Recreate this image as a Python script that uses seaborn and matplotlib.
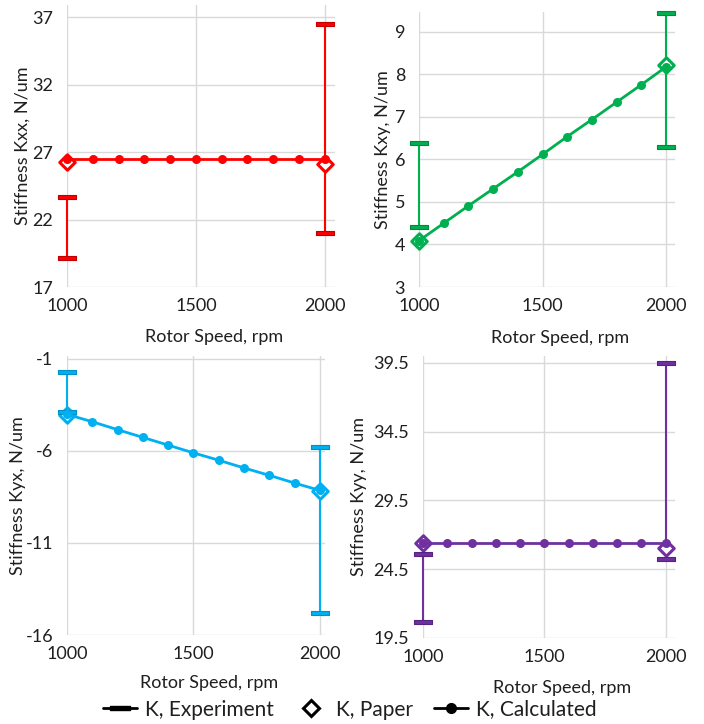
import numpy as np
import pandas as pd
import matplotlib
matplotlib.use("Agg")
import matplotlib.pyplot as plt
from matplotlib.lines import Line2D
from matplotlib.path import Path
import seaborn as sns

# Rotor speeds
speed_calc = [1000, 1100, 1200, 1300, 1400, 1500, 1600, 1700, 1800, 1900, 2000]
speed_pts = [1000, 2000]

# Calculated stiffness (N/um)
kxx_calc = [26.5, 26.5, 26.5, 26.5, 26.5, 26.5, 26.5, 26.5, 26.5, 26.5, 26.5]
kxy_calc = [4.09, 4.50, 4.91, 5.31, 5.71, 6.12, 6.54, 6.94, 7.35, 7.76, 8.18]
kyx_calc = [-4.02, -4.42, -4.85, -5.27, -5.69, -6.11, -6.51, -6.93, -7.33, -7.75, -8.15]
kyy_calc = [26.44, 26.44, 26.44, 26.44, 26.44, 26.44, 26.44, 26.44, 26.44, 26.44, 26.44]

# Published values
kxx_paper = [26.3, 26.1]
kxy_paper = [4.08, 8.22]
kyx_paper = [-4.05, -8.2]
kyy_paper = [26.4, 26.03]

# Experimental range (low / high)
kxx_exp_low = [19.17, 21.0]
kxx_exp_high = [23.67, 36.5]
kxy_exp_low = [4.42, 6.30]
kxy_exp_high = [6.39, 9.45]
kyx_exp_low = [-3.9, -14.78]
kyx_exp_high = [-1.73, -5.78]
kyy_exp_low = [20.69, 25.25]
kyy_exp_high = [25.62, 39.5]

sns.set_theme(style="white")
plt.rcParams["font.family"] = ["Lato", "DejaVu Sans"]
plt.rcParams["axes.unicode_minus"] = False

TEXT = "#1f1f1f"
GRID = "#d9d9d9"

# flat rectangle used as the cap marker of the experimental range
cap_marker = Path([(-1, -0.24), (1, -0.24), (1, 0.24), (-1, 0.24), (-1, -0.24)],
                  [Path.MOVETO, Path.LINETO, Path.LINETO, Path.LINETO, Path.CLOSEPOLY])

panels = [
    dict(rect=[67, 5, 335, 287], color="#ff0000", edge="#c00000", calc=kxx_calc, paper=kxx_paper,
         lo=kxx_exp_low, hi=kxx_exp_high, ticks=[17, 22, 27, 32, 37], ylim=(17, 37.9),
         xmax=2040, ylabel="Stiffness Kxx, N/um", fmt="{:.0f}", xlab_y=-0.15, ylab_x=-0.134),
    dict(rect=[419, 12, 675, 287], color="#00b050", edge="#008a3e", calc=kxy_calc, paper=kxy_paper,
         lo=kxy_exp_low, hi=kxy_exp_high, ticks=[3, 4, 5, 6, 7, 8, 9], ylim=(3, 9.47),
         xmax=2036, ylabel="Stiffness Kxy, N/um", fmt="{:.0f}", xlab_y=-0.155, ylab_x=-0.109),
    dict(rect=[67, 356, 325, 635], color="#00b0f0", edge="#0090c8", calc=kyx_calc, paper=kyx_paper,
         lo=kyx_exp_low, hi=kyx_exp_high, ticks=[-1, -6, -11, -16], ylim=(-16, -0.85),
         xmax=2020, ylabel="Stiffness Kyx, N/um", fmt="{:.0f}", xlab_y=-0.143, ylab_x=-0.157),
    dict(rect=[423, 356, 675, 638], color="#7030a0", edge="#552380", calc=kyy_calc, paper=kyy_paper,
         lo=kyy_exp_low, hi=kyy_exp_high, ticks=[19.5, 24.5, 29.5, 34.5, 39.5], ylim=(19.5, 40.0),
         xmax=2038, ylabel="Stiffness Kyy, N/um", fmt="{:.1f}", xlab_y=-0.148, ylab_x=-0.222),
]

W, H = 704, 724
fig = plt.figure(figsize=(W / 100, H / 100), dpi=100)

for p in panels:
    x0, y0, x1, y1 = p["rect"]
    ax = fig.add_axes([x0 / W, 1 - y1 / H, (x1 - x0) / W, (y1 - y0) / H])
    c = p["color"]

    # experimental range: connecting line plus caps
    ax.vlines(speed_pts, p["lo"], p["hi"], color=c, lw=1.5, zorder=2, clip_on=False)

    paper_df = pd.DataFrame({"speed": speed_pts, "k": p["paper"]})
    sns.scatterplot(data=paper_df, x="speed", y="k", marker="D", s=62, facecolor="white",
                    edgecolor=c, linewidth=2.2, ax=ax, zorder=3, legend=False, clip_on=False)

    cap_df = pd.DataFrame({"speed": speed_pts * 2, "k": list(p["lo"]) + list(p["hi"])})
    sns.scatterplot(data=cap_df, x="speed", y="k", marker=cap_marker, s=175, color=c,
                    edgecolor=p["edge"], linewidth=0.8, ax=ax, zorder=4, legend=False,
                    clip_on=False)

    calc_df = pd.DataFrame({"speed": speed_calc, "k": p["calc"]})
    sns.lineplot(data=calc_df, x="speed", y="k", color=c, lw=2, marker="o", markersize=6.5,
                 markeredgewidth=0, ax=ax, zorder=5, legend=False, clip_on=False)

    ax.set_xlim(1000, p["xmax"])
    ax.set_ylim(*p["ylim"])
    ax.set_xticks([1000, 1500, 2000])
    ax.set_yticks(p["ticks"])
    ax.set_yticklabels([p["fmt"].format(t) for t in p["ticks"]])
    ax.grid(True, color=GRID, lw=1)
    ax.set_axisbelow(True)
    for s in ax.spines.values():
        s.set_visible(False)
    ax.tick_params(axis="both", length=0, labelsize=13, colors=TEXT)
    ax.tick_params(axis="y", pad=10)
    ax.tick_params(axis="x", pad=8)
    ax.set_ylabel(p["ylabel"], fontsize=13, color=TEXT)
    ax.yaxis.set_label_coords(p["ylab_x"], 0.5)
    ax.set_xlabel("Rotor Speed, rpm", fontsize=13, color=TEXT)
    ax.xaxis.set_label_coords(0.55, p["xlab_y"])

# shared legend
handles = [
    Line2D([], [], color="black", lw=2, marker=cap_marker, markersize=14),
    Line2D([], [], color="black", lw=0, marker="D", markersize=8, markerfacecolor="white",
           markeredgewidth=2.2),
    Line2D([], [], color="black", lw=2, marker="o", markersize=7),
]
labels = ["K, Experiment", "K, Paper", "K, Calculated"]
fig.legend(handles, labels, loc="center", bbox_to_anchor=(0.497, 0.02), ncol=3, frameon=False,
           fontsize=15, handlelength=1.6, handletextpad=0.4, columnspacing=1.0,
           labelcolor=TEXT)

fig.savefig("out.png", dpi=100, facecolor="white")
